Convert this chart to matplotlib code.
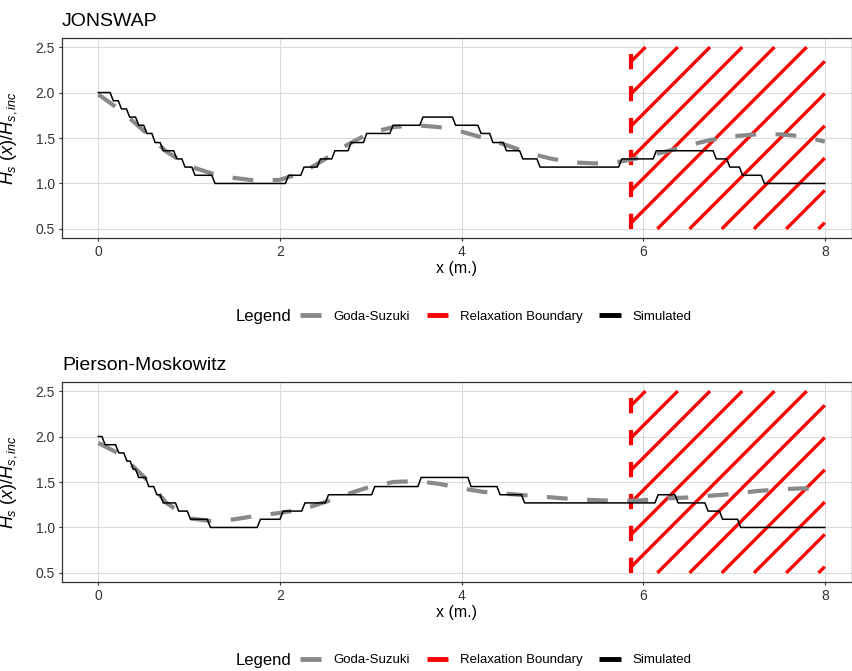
import numpy as np
import matplotlib.pyplot as plt
from matplotlib.lines import Line2D

plt.rcParams['font.family'] = ['Liberation Sans', 'DejaVu Sans']
plt.rcParams['mathtext.fontset'] = 'custom'
plt.rcParams['mathtext.rm'] = 'Liberation Sans'
plt.rcParams['mathtext.it'] = 'Liberation Sans:italic'
plt.rcParams['lines.scale_dashes'] = False

# --- data ---
goda_x = [0, 0.25, 0.5, 0.75, 1.0, 1.25, 1.5, 1.75, 2.0, 2.25, 2.5, 2.75, 3.0, 3.25,
          3.5, 3.75, 4.0, 4.25, 4.5, 4.75, 5.0, 5.25, 5.5, 5.75, 6.0, 6.25, 6.5,
          6.75, 7.0, 7.25, 7.5, 7.75, 8.0]
jon_goda_y = [1.98, 1.80, 1.58, 1.35, 1.19, 1.11, 1.06, 1.03, 1.04, 1.12, 1.27, 1.43,
              1.56, 1.62, 1.64, 1.62, 1.57, 1.50, 1.42, 1.33, 1.27, 1.23, 1.22, 1.24,
              1.29, 1.35, 1.42, 1.48, 1.52, 1.54, 1.54, 1.52, 1.46]
pm_goda_y = [1.93, 1.80, 1.56, 1.27, 1.10, 1.07, 1.09, 1.13, 1.16, 1.20, 1.28, 1.37,
             1.45, 1.50, 1.51, 1.48, 1.43, 1.39, 1.37, 1.35, 1.33, 1.31, 1.30, 1.29,
             1.30, 1.32, 1.33, 1.35, 1.37, 1.40, 1.42, 1.43, 1.41]

# simulated: plateau start positions and levels
jon_sim_edges = [0.0, 0.13, 0.22, 0.31, 0.41, 0.50, 0.59, 0.68, 0.83, 0.92, 1.03, 1.25,
                 2.06, 2.23, 2.41, 2.57, 2.75, 2.92, 3.21, 3.54, 3.90, 4.18, 4.31, 4.46,
                 4.64, 4.83, 5.73, 6.11, 6.77, 6.92, 7.06, 7.30, 8.0]
jon_sim_levels = [2.00, 1.91, 1.82, 1.73, 1.64, 1.55, 1.45, 1.36, 1.27, 1.18, 1.09, 1.00,
                  1.09, 1.18, 1.27, 1.36, 1.45, 1.55, 1.64, 1.73, 1.64, 1.55, 1.45, 1.36,
                  1.27, 1.18, 1.27, 1.36, 1.27, 1.18, 1.09, 1.00]
pm_sim_edges = [0.0, 0.04, 0.19, 0.28, 0.35, 0.41, 0.52, 0.61, 0.68, 0.85, 0.98, 1.20,
                1.75, 2.00, 2.24, 2.50, 3.01, 3.52, 4.07, 4.39, 4.66, 6.13, 6.35, 6.68,
                6.84, 7.04, 8.0]
pm_sim_levels = [2.00, 1.91, 1.82, 1.73, 1.64, 1.55, 1.45, 1.36, 1.27, 1.18, 1.09, 1.00,
                 1.09, 1.18, 1.27, 1.36, 1.45, 1.55, 1.45, 1.36, 1.27, 1.36, 1.27, 1.18,
                 1.09, 1.00]

relax_x = [5.87, 8.0]
relax_y = [0.5, 2.5]
stripe_gap = 0.355
stripe_offset = 6.156   # x where one stripe meets the bottom of the region

titles = ['JONSWAP', 'Pierson-Moskowitz']
goda_c = '#868a8a'
grid_c = '#dadada'
text_c = '#333333'


def sim_xy(edges, levels, ramp=0.035):
    xs, ys = [], []
    for i, lev in enumerate(levels):
        xs += [edges[i] + (ramp if i > 0 else 0), edges[i + 1]]
        ys += [lev, lev]
    return xs, ys


def draw_relax(ax):
    x0, x1 = relax_x
    y0, y1 = relax_y
    c_first = y0 - stripe_offset
    for k in np.arange(-20, 21):
        c = c_first + k * stripe_gap
        xa = max(x0, y0 - c)
        xb = min(x1, y1 - c)
        if xb > xa:
            ax.plot([xa, xb], [xa + c, xb + c], color='red', lw=2.4,
                    solid_capstyle='butt', zorder=2)
    ax.plot([x0, x0], [y0, y1], color='red', lw=3.0, dashes=(11, 12),
            dash_capstyle='butt', zorder=2)


fig = plt.figure(figsize=(8.53, 6.71), dpi=100)
W, H = 853, 671
panels = [(38, jon_goda_y, jon_sim_edges, jon_sim_levels, 317),
          (382, pm_goda_y, pm_sim_edges, pm_sim_levels, 660)]

for (top, gy, se, sl, leg_y), title in zip(panels, titles):
    ax = fig.add_axes([62 / W, 1 - (top + 200) / H, 790 / W, 200 / H])
    ax.set_xlim(-0.4, 8.3)
    ax.set_ylim(0.4, 2.6)
    ax.set_xticks([0, 2, 4, 6, 8])
    ax.set_yticks([0.5, 1.0, 1.5, 2.0, 2.5])
    ax.set_yticklabels(['0.5', '1.0', '1.5', '2.0', '2.5'])
    ax.grid(True, color=grid_c, lw=0.8, zorder=0)
    ax.set_axisbelow(True)
    for s in ax.spines.values():
        s.set_color(text_c)
        s.set_linewidth(0.9)
    ax.tick_params(length=2.5, width=0.8, color=text_c, labelcolor=text_c,
                   labelsize=10, pad=2.5)

    draw_relax(ax)
    ax.plot(goda_x, gy, color=goda_c, lw=3.0, dashes=(15, 14), dash_capstyle='butt',
            zorder=3)
    sx, sy = sim_xy(se, sl)
    ax.plot(sx, sy, color='black', lw=1.1, zorder=4)

    ax.set_xlabel('x (m.)', fontsize=11.5, color='black')
    ax.xaxis.set_label_coords(0.5, -0.115)
    ax.set_ylabel(r'$H_s\ (x)/H_{s,inc}$', fontsize=13, color='black')
    ax.yaxis.set_label_coords(-0.054, 0.5)

    fig.text(62 / W, 1 - (top - 17) / H, title, fontsize=14, va='center', ha='left')

    handles = [Line2D([], [], color=goda_c, lw=3.5, solid_capstyle='butt'),
               Line2D([], [], color='red', lw=3.5, solid_capstyle='butt'),
               Line2D([], [], color='black', lw=3.5, solid_capstyle='butt')]
    labels = ['Goda-Suzuki', 'Relaxation Boundary', 'Simulated']
    fig.text(236 / W, 1 - leg_y / H, 'Legend', fontsize=12, va='center', ha='left')
    fig.legend(handles, labels, loc='center left', bbox_to_anchor=(300 / W, 1 - leg_y / H),
               ncol=3, frameon=False, fontsize=9.5, handlelength=1.6, handletextpad=0.9,
               columnspacing=1.3, borderpad=0, borderaxespad=0)

fig.savefig('out.png', dpi=100)
